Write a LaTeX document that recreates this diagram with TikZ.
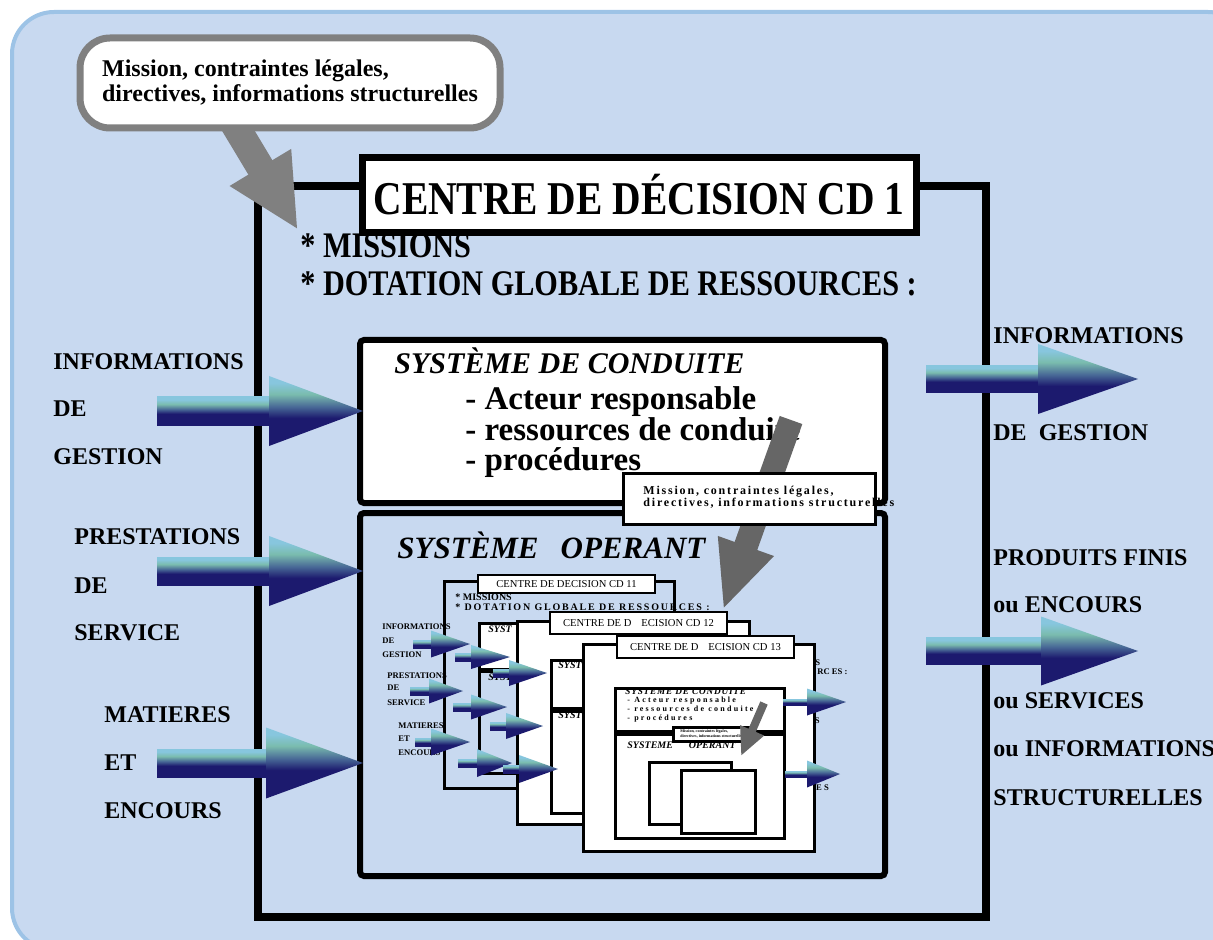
\documentclass[tikz,border=0pt]{standalone}
\usepackage{fontspec}
\setmainfont{Liberation Serif}
\newfontfamily\condfont[FakeStretch=0.84]{Liberation Serif}
\usepackage{tikz}
\usetikzlibrary{calc,positioning,arrows.meta,shapes.misc}

\definecolor{bgblue}{RGB}{200,217,240}
\definecolor{bgedge}{RGB}{157,195,230}
\definecolor{callgray}{RGB}{128,128,128}
\definecolor{arrgray}{RGB}{102,102,102}
\definecolor{flight}{RGB}{135,198,222}
\definecolor{fteal}{RGB}{122,188,174}
\definecolor{fsteel}{RGB}{72,104,150}
\definecolor{fnavy}{RGB}{28,26,110}

\pgfdeclareverticalshading{flowshade}{100bp}{color(0bp)=(fnavy); color(25bp)=(fnavy); color(45bp)=(fnavy); color(53bp)=(fsteel); color(62bp)=(fteal); color(70bp)=(flight); color(75bp)=(flight); color(100bp)=(flight)}

\pgfdeclarelayer{over}
\pgfdeclarelayer{top}
\pgfsetlayers{main,over,top}

\tikzset{
  lab/.style={anchor=west,inner sep=0pt,font=\bfseries\fontsize{12}{14}\selectfont},
  bigtxt/.style={anchor=west,inner sep=0pt,font=\condfont\bfseries\fontsize{18}{20}\selectfont},
  itemtxt/.style={anchor=base west,inner sep=0pt,font=\bfseries\fontsize{16.5}{18}\selectfont},
  sysbox/.style={draw,line width=3pt,rounded corners=2pt,inner sep=0pt,anchor=north west},
  minibox/.style={draw,line width=1.3pt,inner sep=0pt,anchor=north west},
  minititle/.style={draw,fill=white,line width=1.3pt,inner sep=0pt,font=\fontsize{5.3}{6}\selectfont},
  minisys/.style={anchor=west,inner sep=0pt,font=\bfseries\itshape\fontsize{5}{6}\selectfont},
  minilab/.style={anchor=west,inner sep=0pt,font=\bfseries\fontsize{4.3}{5}\selectfont},
  minibit/.style={anchor=base west,inner sep=0pt,font=\bfseries\fontsize{4}{5}\selectfont\addfontfeature{LetterSpace=28}},
}

% shaft start, head start, tip, y, shaft half, head half
\newcommand\flow[6]{%
  \shade[shading=flowshade] (#1,#4-#5) rectangle (#2,#4+#5);
  \shade[shading=flowshade] (#2,#4-#6) -- (#3,#4) -- (#2,#4+#6) -- cycle;}

\begin{document}
\begin{tikzpicture}[x=0.5pt,y=-0.5pt]
\useasboundingbox (0,0) rectangle (1213,940);
\begin{scope}
  \clip (0,0) rectangle (1213,940);
  \draw[bgedge,fill=bgblue,line width=2pt,rounded corners=21pt] (12,12) rectangle (1250,950);
\end{scope}

% centre de decision CD 1
\node[draw,line width=4pt,inner sep=0pt,anchor=north west,minimum width=364pt,minimum height=365.5pt] (cd1) at (254,182) {};
\node[draw,fill=white,line width=3.5pt,inner sep=0pt,minimum width=277pt,minimum height=37.5pt,font=\condfont\bfseries\fontsize{23.5}{26}\selectfont] (cdtitle) at (639,195) {CENTRE DE DÉCISION CD 1};
\node[bigtxt] (missions) at (300,246) {* MISSIONS};
\node[bigtxt] (dotation) at (300,284) {* DOTATION GLOBALE DE RESSOURCES :};

% systeme de conduite
\node[sysbox,fill=white,minimum width=262.5pt,minimum height=81.5pt] (conduite) at (357,337) {};
\node[anchor=base west,inner sep=0pt,font=\bfseries\itshape\fontsize{15}{16}\selectfont] (ctitle) at (394,374) {SYSTÈME DE CONDUITE};
\node[itemtxt] (item1) at (465,409) {- Acteur responsable};
\node[itemtxt] (item2) at (465,440) {- ressources de conduite};
\node[itemtxt] (item3) at (465,470) {- procédures};

% systeme operant
\node[sysbox,minimum width=262.5pt,minimum height=181.5pt] (operant) at (357,510) {};
\node[anchor=west,inner sep=0pt,font=\bfseries\itshape\fontsize{15.5}{16}\selectfont] (otitle) at (397,545) {SYSTÈME\hspace{11pt}OPERANT};

% entrees
\node[lab] (inf1) at (53,362) {INFORMATIONS};
\node[lab] (inf2) at (53,409) {DE};
\node[lab] (inf3) at (53,457) {GESTION};
\node[lab] (pre1) at (74,537) {PRESTATIONS};
\node[lab] (pre2) at (74,586) {DE};
\node[lab] (pre3) at (74,633) {SERVICE};
\node[lab] (mat1) at (104,715) {MATIERES};
\node[lab] (mat2) at (104,763) {ET};
\node[lab] (mat3) at (104,811) {ENCOURS};
\flow{157}{269}{363}{411}{14}{35}
\flow{157}{269}{363}{571}{14}{35}
\flow{157}{266}{363}{763}{14}{35.5}

% sorties
\node[lab] (rinf1) at (993,336) {INFORMATIONS};
\node[lab] (rinf2) at (993,433) {DE\hspace{6pt}GESTION};
\node[lab] (prod1) at (993,558) {PRODUITS FINIS};
\node[lab] (prod2) at (993,605) {ou ENCOURS};
\node[lab] (prod3) at (993,701) {ou SERVICES};
\node[lab] (prod4) at (993,749) {ou INFORMATIONS};
\node[lab] (prod5) at (993,798) {STRUCTURELLES};
\flow{926}{1038}{1138}{379}{13.5}{35}
\flow{926}{1041}{1138}{651}{13.5}{34.5}

% CD 11
\node[minibox,minimum width=115pt,minimum height=103.5pt] (cd11) at (443,580) {};
\node[minititle,minimum width=88.5pt,minimum height=9pt] (t11) at (566.5,584) {CENTRE DE DECISION CD 11};
\node[anchor=west,inner sep=0pt,font=\bfseries\fontsize{5}{6}\selectfont] (m11) at (455,597) {* MISSIONS};
\node[anchor=west,inner sep=0pt,font=\bfseries\fontsize{5}{6}\selectfont\addfontfeature{LetterSpace=18}] (d11) at (455,607) {* DOTATION GLOBALE DE RESSOURCES :};
\node[minibox,fill=white,minimum width=86pt,minimum height=24pt] (c11) at (478,622) {};
\node[minisys] (s11a) at (488,629) {SYST};
\node[minibox,minimum width=86pt,minimum height=51pt] (o11) at (478,670) {};
\draw[line width=2.2pt] (o11.north west) -- (o11.north east);
\node[minisys] (s11b) at (488,677) {SYST};
\node[minilab] (mi1) at (382,627) {INFORMATIONS};
\node[minilab] (mi2) at (382,641) {DE};
\node[minilab] (mi3) at (382,655) {GESTION};
\node[minilab] (mp1) at (387,676) {PRESTATIONS};
\node[minilab] (mp2) at (387,688) {DE};
\node[minilab] (mp3) at (387,703) {SERVICE};
\node[minilab] (mm1) at (398,726) {MATIERES};
\node[minilab] (mm2) at (398,739) {ET};
\node[minilab] (mm3) at (398,753) {ENCOURS};

% CD 12
\node[minibox,fill=white,minimum width=116pt,minimum height=101.5pt] (cd12) at (516,620) {};
\node[minititle,minimum width=88.5pt,minimum height=11pt] (t12) at (638.5,623) {CENTRE DE D\hspace{5pt}ECISION CD 12};
\node[minibox,fill=white,minimum width=90pt,minimum height=24pt] (c12) at (550,659) {};
\node[minisys] (s12a) at (558,665) {SYST};
\node[minibox,minimum width=90pt,minimum height=51pt] (o12) at (550,710) {};
\draw[line width=2.2pt] (o12.north west) -- (o12.north east);
\node[minisys] (s12b) at (558,715) {SYST};

\flow{413}{431}{470}{644}{4}{13.5}
\flow{455}{471}{510}{657}{4}{12}
\flow{493}{509}{547}{673}{4}{13}
\flow{410}{429}{463}{691}{4}{12.5}
\flow{453}{471}{507}{707}{4}{12.5}
\flow{490}{506}{543}{726}{4}{13}
\flow{415}{431}{470}{742}{4}{13.5}
\flow{458}{477}{512}{763}{4}{14}
\flow{503}{519}{558}{769}{4}{14}

% CD 13
\node[minilab] (fr1) at (815,663) {S};
\node[minilab] (fr2) at (817,672) {RC ES :};
\node[minilab] (fr3) at (811,721) {IS};
\node[minilab] (fr4) at (810,788) {LE S};
\node[anchor=west,inner sep=0pt,font=\bfseries\fontsize{2.5}{3}\selectfont] (fr5) at (787,736) {tu re lle};
\node[minibox,fill=white,minimum width=115.5pt,minimum height=103.5pt] (cd13) at (582,643) {};
\node[minititle,minimum width=88.5pt,minimum height=11pt] (t13) at (705.5,647) {CENTRE DE D\hspace{5pt}ECISION CD 13};
\node[minibox,fill=white,minimum width=84.5pt,minimum height=23pt] (c13) at (614,687) {};
\node[anchor=base west,inner sep=0pt,font=\bfseries\itshape\fontsize{4.6}{5}\selectfont\addfontfeature{LetterSpace=9}] (s13a) at (625,694) {SYSTEME DE CONDUITE};
\node[minibit] (k1) at (627,702) {- Acteur responsable};
\node[minibit] (k2) at (627,711) {- ressources de conduite};
\node[minibit] (k3) at (627,720) {- procédures};
\node[minibox,minimum width=84.5pt,minimum height=52pt] (o13) at (614,733) {};
\draw[line width=3pt] (o13.north west) -- (o13.north east);
\node[minisys] (s13b) at (627,745) {SYSTEME\hspace{8pt}OPERANT};
\node[minibox,fill=white,minimum width=41pt,minimum height=31pt] (sq1) at (648,761) {};
\node[minibox,fill=white,minimum width=37pt,minimum height=31.5pt] (sq2) at (680,769) {};
\node[chamfered rectangle,chamfered rectangle xsep=3pt,draw,fill=white,line width=1.5pt,inner sep=0pt,minimum width=39.5pt,minimum height=7pt] (tcall) at (712.5,734) {};
\node[anchor=west,inner sep=0pt,align=left,font=\bfseries\fontsize{2}{2.4}\selectfont] (ttxt) at (680,734) {Mission, contraintes légales,\\directives, informations structurelles};
\coordinate (ntop) at (764,703);
\coordinate (ntip) at (741,756);
\draw[arrgray,line width=4pt,-{Triangle[length=14pt,width=12pt]}] (ntop) -- (ntip);
\flow{783}{807}{846}{702}{3}{13.5}
\flow{785}{807}{840}{774}{3}{13.5}

% consignes
\begin{pgfonlayer}{top}
\node[draw=callgray,fill=white,line width=3.5pt,rounded corners=15pt,inner sep=0pt,minimum width=210pt,minimum height=45pt,align=left,font=\bfseries\fontsize{12}{12.5}\selectfont] (mission) at (290,83) {Mission, contraintes légales,\\directives, informations structurelles};
\node[chamfered rectangle,chamfered rectangle xsep=9pt,draw,fill=white,line width=1.5pt,inner sep=0pt,minimum width=126pt,minimum height=25.5pt] (subcall) at (749,498.5) {};
\node[anchor=west,inner sep=0pt,align=left,font=\bfseries\fontsize{6}{6}\selectfont\addfontfeature{LetterSpace=15}] (subtxt) at (643,497) {Mission, contraintes légales,\\directives, informations structurelles};
\end{pgfonlayer}
\coordinate (mfoot) at ($(mission.south west)!0.38!(mission.south east)$);
\coordinate (mtip) at (298,230);
\coordinate (dtop) at (791,420);
\coordinate (dtip) at (723,610);
\begin{pgfonlayer}{over}
\draw[callgray,line width=14pt,-{Triangle[length=36.5pt,width=33pt]}] ($(mtip)!1.2!(mfoot)$) -- (mtip);
\draw[arrgray,line width=12pt,-{Triangle[length=34pt,width=27pt]}] (dtop) -- (dtip);
\end{pgfonlayer}
\end{tikzpicture}
\end{document}
